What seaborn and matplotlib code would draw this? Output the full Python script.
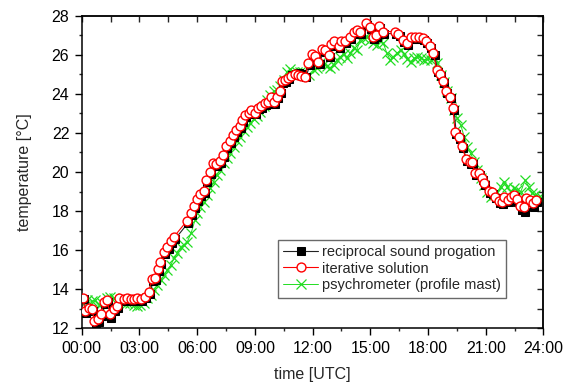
import numpy as np
import matplotlib
matplotlib.use("Agg")
import matplotlib.pyplot as plt
from matplotlib.ticker import MultipleLocator, FuncFormatter
from matplotlib.transforms import offset_copy
import seaborn as sns

# ------------------------
# Data (time in hours UTC, temperature in deg C)
# ------------------------
sound_hours = [0.05, 0.17, 0.35, 0.52, 0.66, 0.83, 0.99, 1.13, 1.30, 1.47,
               1.65, 1.82, 1.96, 2.17, 2.34, 2.55, 2.72, 2.89, 3.07, 3.29,
               3.47, 3.64, 3.81, 3.95, 4.07, 4.28, 4.45, 4.63, 4.80,
               5.46, 5.67, 5.81, 5.98, 6.15, 6.33, 6.46, 6.64, 6.81, 6.98,
               7.16, 7.33, 7.50, 7.68, 7.85, 8.02, 8.20, 8.32, 8.49, 8.67,
               8.80, 8.98, 9.15, 9.32, 9.50, 9.67, 9.84, 9.97, 10.14, 10.31,
               10.40, 10.57, 10.71, 10.88, 11.06, 11.23, 11.40, 11.61,
               11.78, 11.95, 12.13, 12.30, 12.48, 12.65, 12.83, 12.95, 13.13, 13.35,
               13.49, 13.70, 13.95, 14.13, 14.30, 14.47, 14.79, 15.00, 15.13, 15.30,
               15.46, 15.65,
               16.29, 16.46, 16.69, 16.90, 17.12, 17.33, 17.54, 17.73, 17.90, 18.11,
               18.28, 18.45, 18.60, 18.77, 18.94, 19.12, 19.29, 19.41, 19.59, 19.76,
               19.97, 20.16, 20.28, 20.45, 20.63, 20.80, 20.92, 21.15, 21.32, 21.49,
               21.67, 21.84, 21.97, 22.14, 22.31, 22.45, 22.62, 22.80, 22.97, 23.11,
               23.28, 23.46, 23.63]

# reciprocal sound propagation
reciprocal_temp = [13.55, 12.85, 13.00, 12.98, 12.35, 12.42, 12.70, 13.33, 13.42, 12.62,
                   12.95, 13.12, 13.52, 13.48, 13.55, 13.48, 13.48, 13.52, 13.48, 13.60,
                   13.82, 14.48, 14.57, 15.00, 15.38, 15.90, 16.15, 16.46, 16.66,
                   17.46, 17.86, 18.25, 18.58, 18.86, 19.02, 19.56, 19.96, 20.42, 20.38,
                   20.55, 20.85, 21.32, 21.56, 21.88, 22.12, 22.34, 22.64, 22.90, 23.02,
                   23.15, 23.02, 23.28, 23.35, 23.50, 23.58, 23.80, 23.58, 23.84, 24.10,
                   24.64, 24.68, 24.86, 25.02, 25.10, 25.12, 25.10, 24.95,
                   25.55, 26.02, 25.92, 25.62, 26.26, 26.22, 25.96, 26.52, 26.66, 26.42,
                   26.66, 26.66, 26.90, 27.16, 27.24, 27.16, 27.62, 27.38, 26.90, 26.98,
                   27.46, 27.16,
                   27.16, 27.02, 26.74, 26.60, 26.88, 26.90, 26.90, 26.82, 26.66, 26.42,
                   26.05, 25.20, 25.00, 24.64, 24.10, 23.84, 23.24, 22.04, 21.78, 21.30,
                   20.64, 20.50, 20.48, 19.92, 19.94, 19.66, 19.43, 19.00, 18.97, 18.72,
                   18.48, 18.44, 18.70, 18.52, 18.70, 18.80, 18.55, 18.15, 18.02, 18.60,
                   18.52, 18.30, 18.52]

# iterative solution
iterative_temp = [13.57, 12.90, 13.02, 13.00, 12.38, 12.46, 12.73, 13.36, 13.45, 12.73,
                  12.97, 13.14, 13.54, 13.50, 13.57, 13.50, 13.50, 13.54, 13.50, 13.62,
                  13.84, 14.51, 14.59, 15.02, 15.41, 15.92, 16.18, 16.49, 16.69,
                  17.49, 17.89, 18.28, 18.60, 18.88, 19.05, 19.59, 19.99, 20.45, 20.41,
                  20.57, 20.87, 21.35, 21.59, 21.90, 22.15, 22.36, 22.67, 22.92, 23.04,
                  23.18, 23.04, 23.30, 23.38, 23.52, 23.60, 23.83, 23.60, 23.86, 24.12,
                  24.66, 24.71, 24.80, 24.92, 25.00, 24.97, 24.92, 24.88,
                  25.57, 26.04, 25.94, 25.65, 26.28, 26.25, 25.99, 26.54, 26.68, 26.45,
                  26.68, 26.68, 26.93, 27.19, 27.27, 27.19, 27.65, 27.41, 26.93, 27.00,
                  27.48, 27.19,
                  27.19, 27.05, 26.76, 26.62, 26.90, 26.93, 26.93, 26.85, 26.68, 26.45,
                  26.08, 25.23, 25.02, 24.66, 24.12, 23.86, 23.26, 22.07, 21.81, 21.33,
                  20.67, 20.53, 20.50, 19.94, 19.97, 19.68, 19.46, 19.03, 19.00, 18.74,
                  18.52, 18.48, 18.74, 18.57, 18.74, 18.83, 18.60, 18.26, 18.19, 18.66,
                  18.57, 18.40, 18.57]

# psychrometer (profile mast)
mast_hours = [0.05, 0.26, 0.52, 0.69, 0.87, 1.04, 1.30, 1.47, 1.65, 1.82,
              2.00, 2.17, 2.34, 2.52, 2.69, 2.86, 3.03, 3.21, 3.41, 3.59,
              3.76, 3.93, 4.11, 4.28, 4.45, 4.63, 4.80, 4.97, 5.15, 5.32,
              5.49, 5.68, 5.89, 6.01, 6.15, 6.33, 6.50, 6.67, 6.85, 7.02,
              7.19, 7.37, 7.54, 7.71, 7.89, 8.06, 8.23, 8.41, 8.58, 8.75,
              8.93, 9.10, 9.27, 9.45, 9.62, 9.79, 9.97, 10.14, 10.31, 10.49,
              10.66, 10.83, 11.00, 11.17, 11.35, 11.52, 11.79, 12.05, 12.23, 12.39,
              12.57, 12.74, 12.91, 13.09, 13.26, 13.44, 13.61, 13.78, 13.95, 14.13,
              14.30, 14.47, 14.65, 14.82, 15.00, 15.16, 15.34, 15.51, 15.68, 15.86,
              16.03, 16.20, 16.38, 16.59, 16.76, 16.93, 17.10, 17.28, 17.45, 17.62,
              17.80, 17.97, 18.14, 18.31, 18.49, 18.66, 18.83, 19.00, 19.18, 19.35,
              19.53, 19.70, 19.88, 20.05, 20.22, 20.39, 20.57, 20.74, 20.92, 21.09,
              21.26, 21.44, 21.61, 21.78, 21.96, 22.13, 22.31, 22.45, 22.62, 22.83,
              23.05, 23.23, 23.40, 23.57, 23.75, 23.92]
mast_temp = [13.37, 13.45, 13.37, 13.45, 13.20, 13.28, 13.54, 13.62, 13.54, 13.37,
             13.37, 13.30, 13.28, 13.28, 13.20, 13.14, 13.20, 13.28, 13.54, 13.70,
             13.96, 14.22, 14.47, 14.70, 14.99, 15.24, 15.58, 15.84, 16.18, 16.27,
             16.44, 16.86, 17.55, 17.89, 18.23, 18.48, 18.83, 19.17, 19.51, 19.85,
             20.11, 20.45, 20.70, 20.99, 21.30, 21.56, 21.81, 22.10, 22.32, 22.49,
             22.70, 22.87, 23.09, 23.38, 23.69, 23.95, 24.12, 24.20, 24.41, 24.71,
             25.14, 25.26, 25.14, 25.10, 25.14, 25.10, 24.97, 25.23, 25.31, 25.57,
             25.52, 25.40, 25.34, 25.48, 25.74, 25.91, 26.04, 25.82, 26.08, 26.33,
             26.25, 26.76, 26.85, 26.93, 26.76, 26.59, 26.50, 26.68, 26.59, 26.08,
             25.74, 25.91, 26.08, 26.25, 26.04, 25.77, 25.65, 25.82, 25.91, 25.82,
             25.74, 25.77, 25.74, 25.82, 25.57, 24.97, 24.63, 24.12, 23.77, 23.18,
             22.75, 22.41, 21.81, 21.30, 20.96, 20.53, 20.11, 19.68, 19.34, 19.00,
             18.74, 18.83, 19.00, 19.25, 19.51, 19.25, 19.00, 19.17, 19.08, 19.00,
             19.59, 19.25, 18.91, 18.83, 18.74, 18.69]

labels = ["reciprocal sound progation", "iterative solution",
          "psychrometer (profile mast)"]

# ------------------------
# Style
# ------------------------
sns.set_style("ticks")
plt.rcParams["font.family"] = ["Liberation Sans", "DejaVu Sans"]
plt.rcParams["font.size"] = 11.5
plt.rcParams["axes.linewidth"] = 1.1

fig = plt.figure(figsize=(5.72, 3.83), dpi=100)
ax = fig.add_axes([0.143, 0.143, 0.807, 0.816])

# ------------------------
# Plot the three series
# ------------------------
sns.lineplot(x=mast_hours, y=mast_temp, ax=ax, estimator=None, sort=False,
             color="#22dd22", linewidth=0.7, marker="x", markersize=7,
             markeredgewidth=0.9, markeredgecolor="#22dd22",
             label=labels[2], zorder=2)
sns.lineplot(x=sound_hours, y=reciprocal_temp, ax=ax, estimator=None, sort=False,
             color="#222222", linewidth=0.8, marker="s", markersize=5.5,
             markerfacecolor="black", markeredgecolor="black", label=labels[0],
             zorder=3)
# the squares peek out below-right of the circles in the original
ax.lines[-1].set_transform(offset_copy(ax.transData, fig=fig, x=1.2, y=-1.5,
                                       units="dots"))
sns.lineplot(x=sound_hours, y=iterative_temp, ax=ax, estimator=None, sort=False,
             color="red", linewidth=0.8, marker="o", markersize=6.4,
             markerfacecolor="white", markeredgecolor="red",
             markeredgewidth=1.0, label=labels[1], zorder=4)

# ------------------------
# Axes
# ------------------------
ax.set_xlim(0, 24)
ax.set_ylim(12, 28)
ax.xaxis.set_major_locator(MultipleLocator(3))
ax.xaxis.set_minor_locator(MultipleLocator(1.5))
ax.yaxis.set_major_locator(MultipleLocator(2))
ax.yaxis.set_minor_locator(MultipleLocator(1))
ax.xaxis.set_major_formatter(FuncFormatter(lambda v, p: "%02d:00" % int(round(v))))
ax.tick_params(which="major", direction="out", length=5, width=1, pad=4,
               labelsize=11.5, colors="black")
ax.tick_params(which="minor", direction="out", length=2.5, width=1)
ax.set_xlabel("time [UTC]", fontsize=11.5, labelpad=8)
ax.set_ylabel("temperature [°C]", fontsize=11.5, labelpad=14)
for s in ax.spines.values():
    s.set_visible(True)
    s.set_color("black")

top = ax.secondary_xaxis("top")
top.xaxis.set_major_locator(MultipleLocator(1.5))
top.tick_params(direction="in", length=4, width=1, labeltop=False)
right = ax.secondary_yaxis("right")
right.yaxis.set_major_locator(MultipleLocator(1))
right.tick_params(direction="in", length=4, width=1, labelright=False)

# ------------------------
# Legend
# ------------------------
handles, labs = ax.get_legend_handles_labels()
order = [labs.index(l) for l in labels]
leg = ax.legend([handles[i] for i in order], labels, loc="lower left",
                bbox_to_anchor=(0.425, 0.098), fontsize=10.5, frameon=True,
                fancybox=False, edgecolor="#444444", handlelength=2.4,
                handletextpad=0.3, borderpad=0.35, labelspacing=0.2,
                borderaxespad=0)
leg.get_frame().set_linewidth(1.0)

plt.savefig("out.png", dpi=100)
